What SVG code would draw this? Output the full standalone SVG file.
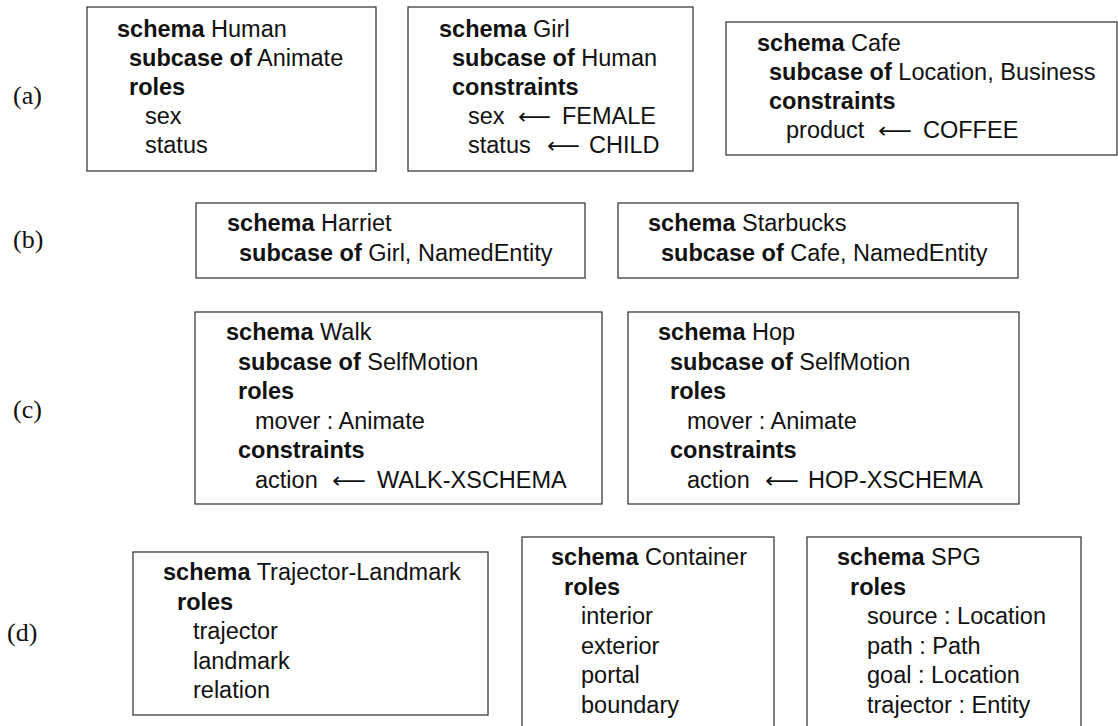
<svg xmlns="http://www.w3.org/2000/svg" width="1118" height="726" viewBox="0 0 1118 726">
  <style>
    .box { fill: #ffffff; stroke: #3c3c3c; stroke-width: 1.3; }
    .t { font-family: "Liberation Sans", Arial, Helvetica, sans-serif; font-size: 23.5px; fill: #111111; }
    .k { font-weight: bold; }
    .arr { font-family: "DejaVu Sans", sans-serif; font-size: 22px; fill: #111111; }
    .lbl { font-family: "Liberation Serif", "Times New Roman", serif; font-size: 26px; fill: #111111; }
  </style>

  <rect x="0" y="0" width="1118" height="726" fill="#ffffff"/>

  <!-- row labels -->
  <g id="labels">
    <text class="lbl" x="13" y="104">(a)</text>
    <text class="lbl" x="13" y="248">(b)</text>
    <text class="lbl" x="13" y="418">(c)</text>
    <text class="lbl" x="7" y="641">(d)</text>
  </g>

  <!-- (a) -->
  <g id="human">
    <rect class="box" x="87" y="7" width="289" height="164"/>
    <text class="t" x="117" y="36.5"><tspan class="k">schema</tspan> Human</text>
    <text class="t" x="129" y="65.7"><tspan class="k">subcase of</tspan> Animate</text>
    <text class="t k" x="129" y="94.9">roles</text>
    <text class="t" x="145" y="124.1">sex</text>
    <text class="t" x="145" y="153.3">status</text>
  </g>

  <g id="girl">
    <rect class="box" x="408" y="7" width="285" height="164"/>
    <text class="t" x="439" y="36.5"><tspan class="k">schema</tspan> Girl</text>
    <text class="t" x="452" y="65.7"><tspan class="k">subcase of</tspan> Human</text>
    <text class="t k" x="452" y="94.9">constraints</text>
    <text class="t" x="468" y="124.1">sex</text>
    <text class="arr" x="518" y="124.1" textLength="33" lengthAdjust="spacingAndGlyphs">⟵</text>
    <text class="t" x="562" y="124.1">FEMALE</text>
    <text class="t" x="468" y="153.3">status</text>
    <text class="arr" x="547" y="153.3" textLength="33" lengthAdjust="spacingAndGlyphs">⟵</text>
    <text class="t" x="589" y="153.3">CHILD</text>
  </g>

  <g id="cafe">
    <rect class="box" x="726" y="22" width="391" height="133"/>
    <text class="t" x="757" y="50.5"><tspan class="k">schema</tspan> Cafe</text>
    <text class="t" x="769" y="79.7"><tspan class="k">subcase of</tspan> Location, Business</text>
    <text class="t k" x="769" y="108.9">constraints</text>
    <text class="t" x="786" y="138.1">product</text>
    <text class="arr" x="878" y="138.1" textLength="34" lengthAdjust="spacingAndGlyphs">⟵</text>
    <text class="t" x="923" y="138.1">COFFEE</text>
  </g>

  <!-- (b) -->
  <g id="harriet">
    <rect class="box" x="196" y="203" width="389" height="75"/>
    <text class="t" x="227" y="231"><tspan class="k">schema</tspan> Harriet</text>
    <text class="t" x="239" y="260.5"><tspan class="k">subcase of</tspan> Girl, NamedEntity</text>
  </g>

  <g id="starbucks">
    <rect class="box" x="618" y="203" width="400" height="75"/>
    <text class="t" x="648" y="231"><tspan class="k">schema</tspan> Starbucks</text>
    <text class="t" x="661" y="260.5"><tspan class="k">subcase of</tspan> Cafe, NamedEntity</text>
  </g>

  <!-- (c) -->
  <g id="walk">
    <rect class="box" x="195" y="312" width="407" height="192"/>
    <text class="t" x="226" y="340"><tspan class="k">schema</tspan> Walk</text>
    <text class="t" x="238" y="369.5"><tspan class="k">subcase of</tspan> SelfMotion</text>
    <text class="t k" x="238" y="399">roles</text>
    <text class="t" x="255" y="428.5">mover : Animate</text>
    <text class="t k" x="238" y="458">constraints</text>
    <text class="t" x="255" y="487.5">action</text>
    <text class="arr" x="332" y="487.5" textLength="34" lengthAdjust="spacingAndGlyphs">⟵</text>
    <text class="t" x="377" y="487.5">WALK-XSCHEMA</text>
  </g>

  <g id="hop">
    <rect class="box" x="628" y="312" width="391" height="192"/>
    <text class="t" x="658" y="340"><tspan class="k">schema</tspan> Hop</text>
    <text class="t" x="670" y="369.5"><tspan class="k">subcase of</tspan> SelfMotion</text>
    <text class="t k" x="670" y="399">roles</text>
    <text class="t" x="687" y="428.5">mover : Animate</text>
    <text class="t k" x="670" y="458">constraints</text>
    <text class="t" x="687" y="487.5">action</text>
    <text class="arr" x="765" y="487.5" textLength="34" lengthAdjust="spacingAndGlyphs">⟵</text>
    <text class="t" x="808" y="487.5">HOP-XSCHEMA</text>
  </g>

  <!-- (d) -->
  <g id="trajector-landmark">
    <rect class="box" x="133" y="552" width="355" height="163"/>
    <text class="t" x="163" y="580"><tspan class="k">schema</tspan> Trajector-Landmark</text>
    <text class="t k" x="177" y="609.5">roles</text>
    <text class="t" x="193" y="639">trajector</text>
    <text class="t" x="193" y="668.5">landmark</text>
    <text class="t" x="193" y="698">relation</text>
  </g>

  <g id="container">
    <rect class="box" x="522" y="537" width="252" height="210"/>
    <text class="t" x="551" y="565"><tspan class="k">schema</tspan> Container</text>
    <text class="t k" x="564" y="594.5">roles</text>
    <text class="t" x="581" y="624">interior</text>
    <text class="t" x="581" y="653.5">exterior</text>
    <text class="t" x="581" y="683">portal</text>
    <text class="t" x="581" y="712.5">boundary</text>
  </g>

  <g id="spg">
    <rect class="box" x="807" y="537" width="274" height="210"/>
    <text class="t" x="837" y="565"><tspan class="k">schema</tspan> SPG</text>
    <text class="t k" x="850" y="594.5">roles</text>
    <text class="t" x="867" y="624">source : Location</text>
    <text class="t" x="867" y="653.5">path : Path</text>
    <text class="t" x="867" y="683">goal : Location</text>
    <text class="t" x="867" y="712.5">trajector : Entity</text>
  </g>
</svg>
